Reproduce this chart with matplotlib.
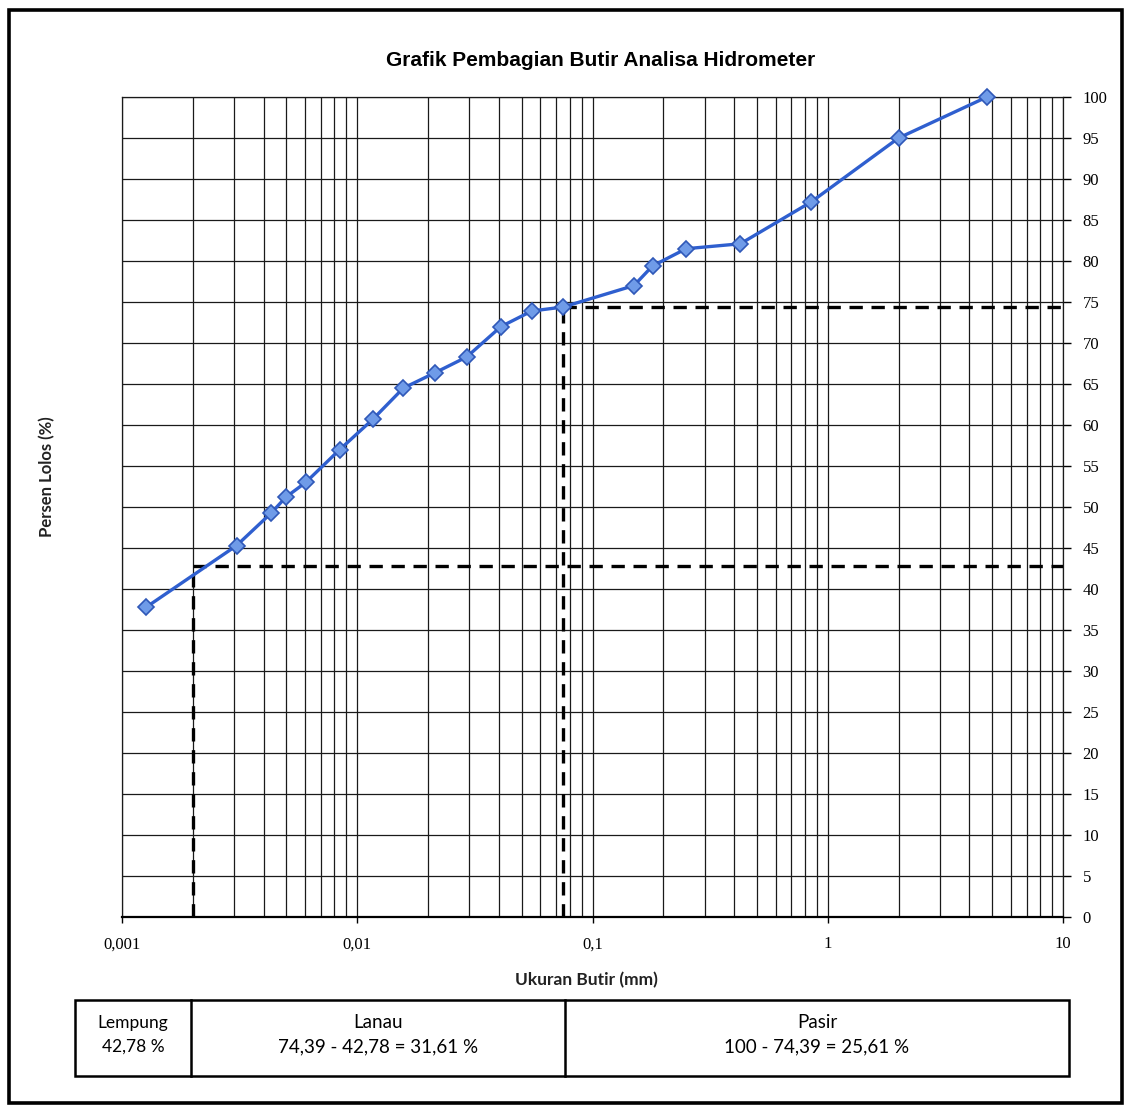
import matplotlib
matplotlib.use('Agg')
import matplotlib.pyplot as plt
from matplotlib.patches import Rectangle
from matplotlib.lines import Line2D
from matplotlib.ticker import FixedLocator, NullFormatter

# ---- data ----
grain_size_mm = [0.00127, 0.00307, 0.00432, 0.00497, 0.00604, 0.00842, 0.01165,
                 0.0157, 0.0215, 0.0292, 0.0408, 0.0552, 0.075, 0.15, 0.18,
                 0.25, 0.425, 0.85, 2.0, 4.75]
percent_passing = [37.8, 45.3, 49.3, 51.2, 53.0, 57.0, 60.7, 64.5, 66.4, 68.3,
                   72.0, 73.9, 74.39, 77.0, 79.4, 81.5, 82.1, 87.2, 95.0, 100.0]

clay_limit_mm = 0.002
clay_percent = 42.78
silt_limit_mm = 0.075
silt_percent = 74.39

x_major = [0.001, 0.01, 0.1, 1, 10]
x_major_labels = ["0,001", "0,01", "0,1", "1", "10"]
y_ticks = list(range(0, 101, 5))

title = "Grafik Pembagian Butir Analisa Hidrometer"
xlabel = "Ukuran Butir (mm)"
ylabel = "Persen Lolos (%)"

table_titles = ["Lempung", "Lanau", "Pasir"]
table_values = ["42,78 %", "74,39 - 42,78 = 31,61 %", "100 - 74,39 = 25,61 %"]

# ---- figure ----
W, H = 1127, 1106
fig = plt.figure(figsize=(W / 100, H / 100), dpi=100)
fig.patch.set_facecolor('white')

def fx(px):
    return px / W

def fy(py):
    return 1 - py / H

# outer frame
fig.add_artist(Rectangle((fx(9), fy(1103)), fx(1122) - fx(9), fy(10) - fy(1103),
                         transform=fig.transFigure, fill=False, lw=2.6,
                         edgecolor='black'))

ax = fig.add_axes([fx(122), fy(917), fx(1063) - fx(122), fy(97) - fy(917)])
ax.set_xscale('log')
ax.set_xlim(0.001, 10)
ax.set_ylim(0, 100)

# grid: all decade sub-lines
minor = []
for d in [0.001, 0.01, 0.1, 1]:
    for k in range(2, 10):
        minor.append(d * k)
ax.xaxis.set_major_locator(FixedLocator(x_major))
ax.xaxis.set_minor_locator(FixedLocator(minor))
ax.xaxis.set_minor_formatter(NullFormatter())
ax.set_xticklabels(x_major_labels, family='Liberation Serif', fontsize=12)
ax.set_yticks(y_ticks)
ax.set_yticklabels([str(v) for v in y_ticks], family='Liberation Serif', fontsize=12)
ax.yaxis.tick_right()
ax.tick_params(axis='y', which='major', length=6, width=1, pad=8, direction='out')
ax.tick_params(axis='x', which='major', length=4, width=1, pad=10, direction='out')
ax.tick_params(axis='x', which='minor', length=0)
ax.grid(True, which='both', axis='x', color='#1a1a1a', lw=0.9)
ax.grid(True, which='major', axis='y', color='#1a1a1a', lw=0.9)
ax.set_axisbelow(True)
for s in ax.spines.values():
    s.set_color('#1a1a1a')
    s.set_linewidth(0.9)
ax.spines['bottom'].set_linewidth(1.6)
ax.spines['bottom'].set_color('black')

# dashed helper lines
dash_kw = dict(color='black', lw=2.4, dashes=(4, 2.6), zorder=3)
ax.plot([clay_limit_mm, clay_limit_mm], [0, clay_percent], **dash_kw)
ax.plot([clay_limit_mm, 10], [clay_percent, clay_percent], **dash_kw)
ax.plot([silt_limit_mm, silt_limit_mm], [0, silt_percent], **dash_kw)
ax.plot([silt_limit_mm, 10], [silt_percent, silt_percent], **dash_kw)

# data curve
ax.plot(grain_size_mm, percent_passing, color='#2f5fcf', lw=2.4, zorder=4,
        marker='D', markersize=8, markerfacecolor='#6f9be8',
        markeredgecolor='#2f58b8', markeredgewidth=1.2, clip_on=False)

# titles
fig.text(fx(601), fy(61), title, ha='center', va='center',
         family='Liberation Sans', fontweight='bold', fontsize=15)
fig.text(fx(586), fy(980), xlabel, ha='center', va='center',
         family='Lato', fontweight='bold', fontsize=12.5, color='#222222')
fig.text(fx(47), fy(477), ylabel, ha='center', va='center', rotation=90,
         family='Lato', fontweight='bold', fontsize=12, color='#222222')

# bottom table
tx0, tx1, tx2, tx3 = 75, 191, 565, 1069
ty0, ty1 = 1000, 1076
fig.add_artist(Rectangle((fx(tx0), fy(ty1)), fx(tx3) - fx(tx0), fy(ty0) - fy(ty1),
                         transform=fig.transFigure, fill=False, lw=1.8,
                         edgecolor='black'))
for xv in (tx1, tx2):
    fig.add_artist(Line2D([fx(xv), fx(xv)], [fy(ty1), fy(ty0)],
                          transform=fig.transFigure, color='black', lw=1.8))

centers = [(tx0 + tx1) / 2, (tx1 + tx2) / 2, (tx2 + tx3) / 2]
tsizes = [12.5, 13.5, 13.5]
for cx, t, v, fs in zip(centers, table_titles, table_values, tsizes):
    fig.text(fx(cx), fy(1023), t, ha='center', va='center', family='Lato',
             fontsize=fs)
    fig.text(fx(cx), fy(1047), v, ha='center', va='center', family='Lato',
             fontsize=fs)

fig.savefig('out.png', dpi=100, facecolor=fig.get_facecolor())
